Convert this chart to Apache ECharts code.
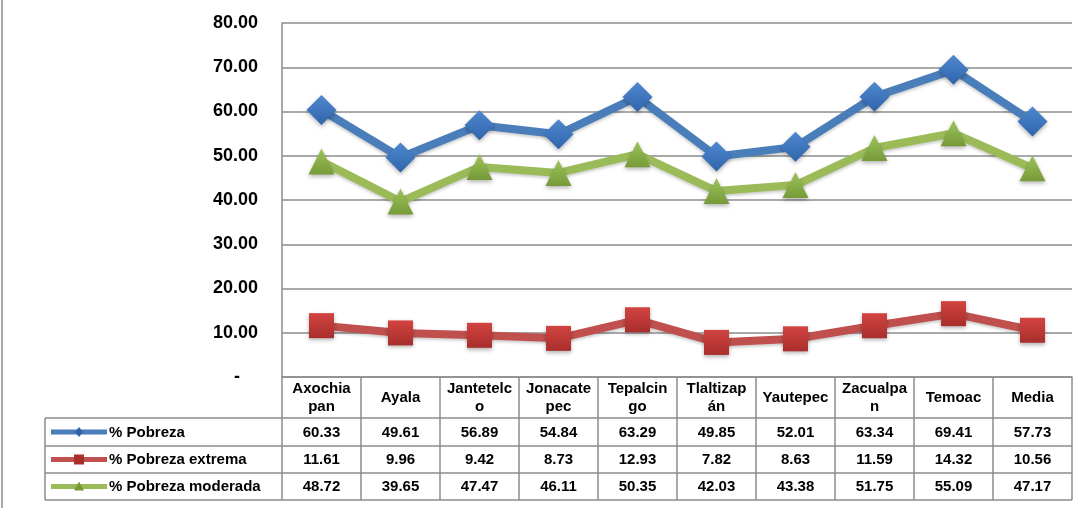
<!DOCTYPE html>
<html>
<head>
<meta charset="utf-8">
<script src="https://cdn.jsdelivr.net/npm/echarts@6/dist/echarts.min.js"></script>
<style>
  html, body { margin: 0; padding: 0; background: #fff; }
  #chart { width: 1082px; height: 508px; }
</style>
</head>
<body>
<div id="chart"></div>
<script>
// data
const categories = ['Axochiapan', 'Ayala', 'Jantetelco', 'Jonacatepec', 'Tepalcingo', 'Tlaltizapán', 'Yautepec', 'Zacualpan', 'Temoac', 'Media']
const headerLabels = ['Axochia\npan', 'Ayala', 'Jantetelc\no', 'Jonacate\npec', 'Tepalcin\ngo', 'Tlaltizap\nán', 'Yautepec', 'Zacualpa\nn', 'Temoac', 'Media']
const seriesNames = ['% Pobreza', '% Pobreza extrema', '% Pobreza moderada']
const pobreza = [60.33, 49.61, 56.89, 54.84, 63.29, 49.85, 52.01, 63.34, 69.41, 57.73]
const extrema = [11.61, 9.96, 9.42, 8.73, 12.93, 7.82, 8.63, 11.59, 14.32, 10.56]
const moderada = [48.72, 39.65, 47.47, 46.11, 50.35, 42.03, 43.38, 51.75, 55.09, 47.17]

const allValues = [pobreza, extrema, moderada]
const lineColors = ['#4a7ebb', '#c0504d', '#9bbb59']
const markerTop = ['#4f88d0', '#d24440', '#9cc45a']
const markerBottom = ['#2f64aa', '#a82e2c', '#769a38']
const symbols = ['diamond', 'rect', 'triangle']
const symbolSizes = [30, 25, [26, 26]]

// layout of plot + data table
const tableLeft = 45
const plotLeft = 282
const plotRight = 1072
const plotTop = 23
const rowEdges = [377, 418, 446, 473, 500]
const colW = (plotRight - plotLeft) / categories.length
const gridGray = '#8c8c8c'
const fontFamily = 'Arial, "Liberation Sans", sans-serif'

const graphics = []
const line = (x1, y1, x2, y2, stroke, lineWidth) => ({
  type: 'line', silent: true,
  shape: { x1, y1, x2, y2 },
  style: { stroke: stroke || gridGray, lineWidth: lineWidth || 1.5 }
})
const label = (text, x, y, align) => ({
  type: 'text', silent: true, x, y,
  style: {
    text, fill: '#000', fontSize: 15, fontWeight: 'bold', fontFamily,
    align: align || 'center', verticalAlign: 'middle', lineHeight: 18
  }
})

// outer frame left edge
graphics.push(line(2, 0, 2, 508, '#8c8c8c', 1.5))

// table borders
for (let r = 1; r < rowEdges.length; r++) {
  graphics.push(line(tableLeft, rowEdges[r], plotRight, rowEdges[r]))
}
graphics.push(line(tableLeft, rowEdges[1], tableLeft, rowEdges[4]))
for (let i = 0; i <= categories.length; i++) {
  const x = plotLeft + i * colW
  graphics.push(line(x, rowEdges[0], x, rowEdges[4]))
}

// header row
headerLabels.forEach((h, i) => {
  graphics.push(label(h, plotLeft + (i + 0.5) * colW, (rowEdges[0] + rowEdges[1]) / 2))
})

// data rows with legend keys
allValues.forEach((vals, s) => {
  const cy = (rowEdges[s + 1] + rowEdges[s + 2]) / 2
  graphics.push(line(51, cy, 107, cy, lineColors[s], 5))
  const mx = 79
  if (s === 0) {
    graphics.push({ type: 'polygon', silent: true, shape: { points: [[mx, cy - 5], [mx + 4, cy], [mx, cy + 5], [mx - 4, cy]] }, style: { fill: markerBottom[s] } })
  } else if (s === 1) {
    graphics.push({ type: 'rect', silent: true, shape: { x: mx - 5, y: cy - 5, width: 10, height: 10 }, style: { fill: markerBottom[s] } })
  } else {
    graphics.push({ type: 'polygon', silent: true, shape: { points: [[mx, cy - 5], [mx + 5, cy + 4], [mx - 5, cy + 4]] }, style: { fill: markerBottom[s] } })
  }
  graphics.push(label(seriesNames[s], 109, cy + 0.5, 'left'))
  vals.forEach((v, i) => {
    graphics.push(label(v.toFixed(2), plotLeft + (i + 0.5) * colW, cy + 0.5))
  })
})

const option = {
  animation: false,
  grid: {
    left: plotLeft,
    right: 1082 - plotRight,
    top: plotTop,
    bottom: 508 - rowEdges[0]
  },
  xAxis: {
    type: 'category',
    data: categories,
    boundaryGap: true,
    axisLine: { show: true, lineStyle: { color: gridGray, width: 1.5 } },
    axisTick: { show: false },
    axisLabel: { show: false }
  },
  yAxis: {
    type: 'value',
    min: 0,
    max: 80,
    interval: 10,
    axisLine: { show: true, lineStyle: { color: gridGray, width: 1.5 } },
    axisTick: { show: false },
    splitLine: { lineStyle: { color: gridGray, width: 1.5 } },
    axisLabel: {
      margin: 24,
      color: '#000',
      fontSize: 18,
      fontWeight: 'bold',
      fontFamily,
      formatter: v => (v === 0 ? '{d|-}' : v.toFixed(2)),
      rich: { d: { fontSize: 18, fontWeight: 'bold', padding: [0, 18, 0, 0] } }
    }
  },
  series: allValues.map((vals, s) => ({
    name: seriesNames[s],
    type: 'line',
    data: vals,
    symbol: symbols[s],
    symbolSize: symbolSizes[s],
    lineStyle: {
      color: lineColors[s],
      width: 8,
      shadowColor: 'rgba(0,0,0,0.2)',
      shadowBlur: 3,
      shadowOffsetY: 2
    },
    itemStyle: {
      color: new echarts.graphic.LinearGradient(0, 0, 0, 1, [
        { offset: 0, color: markerTop[s] },
        { offset: 1, color: markerBottom[s] }
      ]),
      shadowColor: 'rgba(0,0,0,0.3)',
      shadowBlur: 4,
      shadowOffsetY: 2
    }
  })),
  graphic: graphics
}

const chart = echarts.init(document.getElementById('chart'))
chart.setOption(option)
</script>
</body>
</html>
